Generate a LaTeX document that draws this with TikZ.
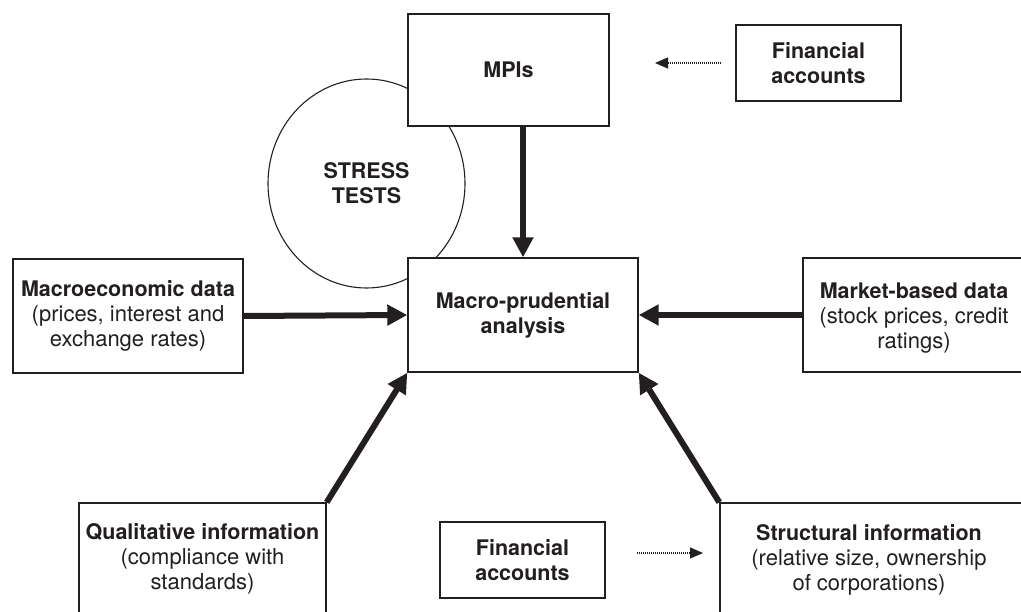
\documentclass[tikz,border=0pt]{standalone}
\usepackage{fontspec}
\setmainfont{TeX Gyre Heros}
\usetikzlibrary{arrows.meta,shapes.geometric}
\definecolor{ink}{HTML}{231F20}
\newcommand\hdline[1]{{\fontsize{21.5}{25}\selectfont\bfseries #1}}
\begin{document}
\begin{tikzpicture}[x=1pt,y=-1pt,
  box/.style={draw=ink, line width=1.4pt, fill=white, align=center, inner sep=0pt,
    font=\fontsize{22}{25}\selectfont, text=ink},
  txt/.style={align=center, inner sep=0pt, font=\fontsize{22}{25}\selectfont, text=ink},
  bigarrow/.style={draw=ink, line width=6pt, -{Triangle[length=20pt,width=20pt]}},
  dotarrow/.style={draw=ink, line width=1.1pt, dash pattern=on 1pt off 1pt,
    -{Triangle[length=13pt,width=11pt]}}]
\useasboundingbox (0,0) rectangle (1021,612);
\clip (0,0) rectangle (1021,612);
\node[ellipse, draw=ink, line width=1.1pt, minimum width=197pt, minimum height=209pt,
  inner sep=0pt, align=center, font=\fontsize{21.5}{25}\selectfont\bfseries, text=ink]
  (stress) at (366.5,183.5) {STRESS\\TESTS};
\node[box, minimum width=201pt, minimum height=112pt] (mpi) at (508.5,70) {\hdline{MPIs}};
\node[box, minimum width=230pt, minimum height=114pt] (mpa) at (523,315) {\hdline{Macro-prudential}\\\hdline{analysis}};
\node[box, minimum width=165pt, minimum height=76pt] (fa1) at (818.5,63) {\hdline{Financial}\\\hdline{accounts}};
\node[box, minimum width=230pt, minimum height=114pt] (mac) at (128,316) {\hdline{Macroeconomic data}\\(prices, interest and\\exchange rates)};
\node[box, minimum width=250pt, minimum height=114pt] (mkt) at (928,315) {};
\node[txt] (mkttext) at (914,318) {\hdline{Market-based data}\\(stock prices, credit\\ratings)};
\node[box, minimum width=247pt, minimum height=112pt] (qual) at (202.5,559) {\hdline{Qualitative information}\\(compliance with\\standards)};
\node[box, minimum width=165pt, minimum height=76pt] (fa2) at (522.5,560) {\hdline{Financial}\\\hdline{accounts}};
\node[box, minimum width=320pt, minimum height=112pt] (str) at (880,559) {};
\node[txt] (strtext) at (869,560) {\hdline{Structural information}\\(relative size, ownership\\of corporations)};
\coordinate (t1) at (721,63);
\coordinate (t2) at (655,63);
\coordinate (b1) at (637,553);
\coordinate (b2) at (703,553);
\draw[bigarrow] (mpa.north |- mpi.south) -- (mpa.north);
\draw[bigarrow] (mac.east) -- (mpa.west);
\draw[bigarrow] (mkt.west) -- (mpa.east);
\draw[bigarrow] (qual.north east) -- (mpa.south west);
\draw[bigarrow] (str.north west) -- (mpa.south east);
\draw[dotarrow] (t1) -- (t2);
\draw[dotarrow] (b1) -- (b2);
\end{tikzpicture}
\end{document}
